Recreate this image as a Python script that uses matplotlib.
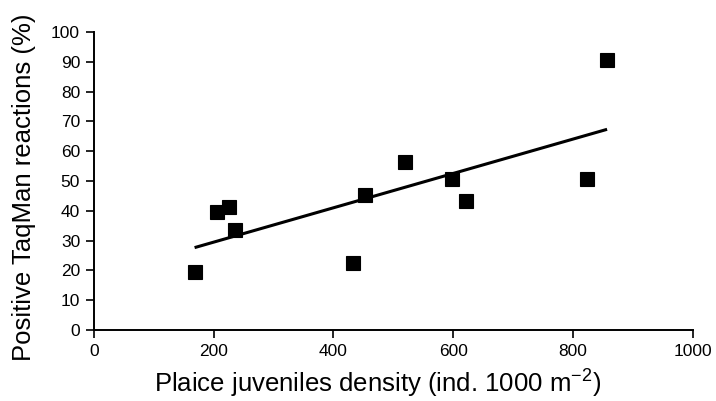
import numpy as np
import matplotlib
matplotlib.use("Agg")
import matplotlib.pyplot as plt

plt.rcParams['font.family'] = ['Liberation Sans', 'DejaVu Sans']
plt.rcParams['mathtext.fontset'] = 'custom'
plt.rcParams['mathtext.rm'] = 'Liberation Sans'
plt.rcParams['mathtext.it'] = 'Liberation Sans:italic'

density = [168, 206, 225, 235, 432, 453, 519, 598, 621, 823, 857]
positive = [19.4, 39.7, 41.4, 33.6, 22.4, 45.4, 56.4, 50.7, 43.4, 50.6, 90.6]
xticks = [0, 200, 400, 600, 800, 1000]
yticks = [0, 10, 20, 30, 40, 50, 60, 70, 80, 90, 100]

W, H = 716, 401
fig = plt.figure(figsize=(W/100, H/100), dpi=100)
ax = fig.add_axes([94/W, 71/H, (692.7-94)/W, (330-32)/H])

x = np.array(density, dtype=float)
y = np.array(positive, dtype=float)
slope, intercept = np.polyfit(x, y, 1)
xl = np.array([x.min(), x.max()])
ax.plot(xl, slope*xl + intercept, color='black', lw=2.2, solid_capstyle='butt', zorder=2)
ax.plot(x, y, 's', color='black', ms=9.5, mec='black', mew=0.8, zorder=3)

ax.set_xlim(0, 1000)
ax.set_ylim(0, 100)
ax.set_xticks(xticks)
ax.set_yticks(yticks)
ax.tick_params(axis='both', direction='out', length=6, width=1.2, labelsize=12.5, colors='black', pad=4)
for s in ['top', 'right']:
    ax.spines[s].set_visible(False)
for s in ['left', 'bottom']:
    ax.spines[s].set_linewidth(1.4)
    ax.spines[s].set_color('black')

fig.text(378/W, (H-393)/H, 'Plaice juveniles density (ind. 1000 m$^{\u22122}$)',
         fontsize=18.5, ha='center', va='baseline')
fig.text(24.5/W, 1-187.5/H, 'Positive TaqMan reactions (%)', fontsize=18.5,
         rotation=90, ha='center', va='center')

fig.savefig('out.png', dpi=100)
